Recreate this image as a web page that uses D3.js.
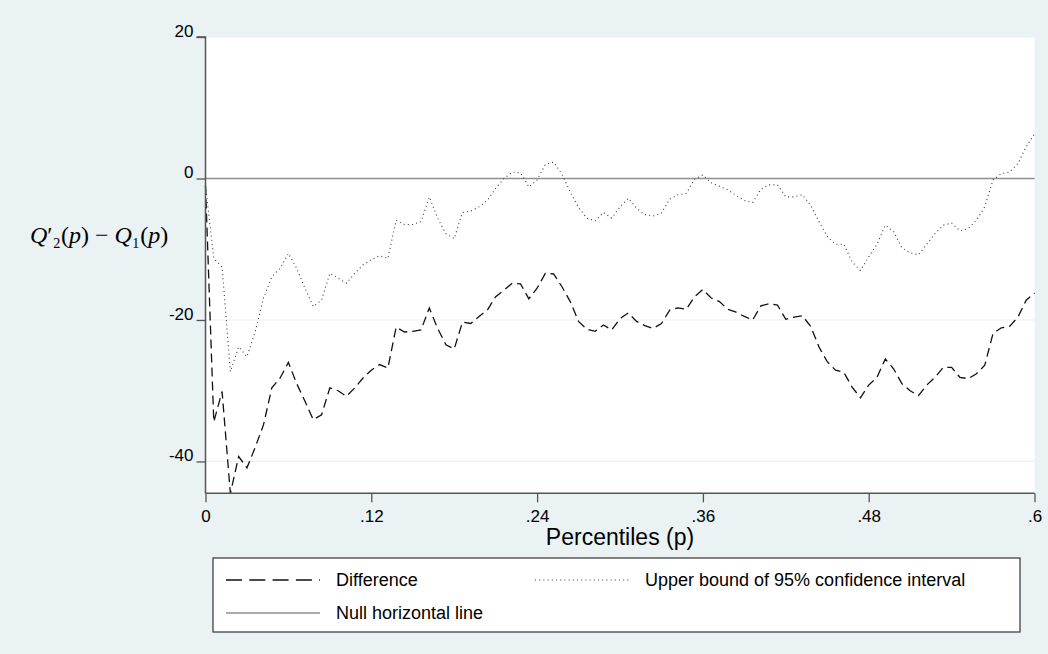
<!DOCTYPE html>
<html>
<head>
<meta charset="utf-8">
<script src="https://cdn.jsdelivr.net/npm/d3@7"></script>
<style>
  html, body { margin: 0; padding: 0; background: #ffffff; }
  svg { display: block; }
  text { font-family: "Liberation Sans", Arial, sans-serif; fill: #000; }
</style>
</head>
<body>
<svg id="chart" width="1048" height="654"></svg>
<script>
// Percentile grid: 0 to .6 in steps of .006
const pStep = 0.006;
const percentiles = d3.range(0, 101).map(i => +(i * pStep).toFixed(3));

// Q2'(p) - Q1(p)
const difference = [
  -1.0, -34.4, -30.1, -44.5, -39.3, -40.9, -38.0, -34.8, -29.6, -28.2,
  -26.0, -29.0, -31.5, -34.1, -33.4, -29.6, -30.0, -30.8, -29.6, -28.2,
  -27.1, -26.3, -26.8, -21.0, -21.7, -21.6, -21.4, -18.3, -21.2, -23.5,
  -24.1, -20.3, -20.5, -19.5, -18.6, -16.7, -15.8, -14.8, -14.9, -17.0,
  -15.5, -13.4, -13.5, -15.3, -17.4, -20.2, -21.3, -21.6, -20.7, -21.4,
  -19.8, -19.0, -20.2, -20.8, -21.2, -20.5, -18.6, -18.3, -18.5, -16.7,
  -15.7, -16.9, -17.4, -18.5, -18.9, -19.5, -20.0, -18.0, -17.7, -17.9,
  -19.9, -19.6, -19.4, -20.9, -23.8, -25.9, -27.1, -27.4, -29.5, -31.0,
  -29.2, -28.1, -25.5, -26.9, -29.0, -30.0, -30.7, -29.2, -28.1, -26.7,
  -26.7, -28.1, -28.3, -27.6, -26.4, -21.9, -21.1, -20.9, -19.6, -17.2,
  -16.2
];

// Upper bound of the 95% confidence interval
const upperBound = [
  -1.0, -11.3, -12.5, -27.3, -23.8, -25.2, -21.6, -16.9, -13.9, -12.7,
  -10.6, -12.7, -15.5, -18.1, -17.2, -13.4, -14.1, -14.8, -13.4, -12.2,
  -11.5, -10.9, -11.3, -5.9, -6.5, -6.5, -6.1, -2.6, -5.6, -7.8,
  -8.5, -4.8, -4.6, -4.0, -3.1, -1.4, 0.0, 0.9, 0.8, -1.2,
  -0.2, 2.0, 2.3, 0.6, -1.9, -4.1, -5.6, -6.0, -4.8, -5.6,
  -4.0, -2.8, -4.2, -5.1, -5.3, -4.9, -2.9, -2.3, -2.1, -0.1,
  0.5, -0.6, -1.1, -1.6, -2.4, -3.1, -3.4, -1.5, -0.9, -0.9,
  -2.6, -2.6, -2.3, -3.8, -6.1, -8.2, -9.3, -9.3, -11.8, -13.0,
  -11.1, -9.3, -6.6, -7.5, -9.8, -10.5, -10.8, -9.3, -7.8, -6.6,
  -6.3, -7.4, -7.1, -5.9, -4.0, -0.2, 0.7, 0.9, 2.1, 4.5,
  6.3
];

// Null reference level
const nullLevel = 0;

const xTicks = [0, 0.12, 0.24, 0.36, 0.48, 0.6];
const xTickLabels = ["0", ".12", ".24", ".36", ".48", ".6"];
const yTicks = [20, 0, -20, -40];
const yTickLabels = ["20", "0", "-20", "-40"];

const legendItems = ["Difference", "Upper bound of 95% confidence interval", "Null horizontal line"];

const BG = "#eaf2f3";
const svg = d3.select("#chart");
const W = 1048, H = 654;

// graph region
svg.append("rect").attr("x", 0).attr("y", 0).attr("width", W).attr("height", H).attr("fill", BG);

const plot = { left: 205.5, right: 1034.5, top: 37, bottom: 493.3 };
const yMin = d3.min(difference);

const x = d3.scaleLinear().domain([0, 0.6]).range([plot.left, plot.right]);
const y = d3.scaleLinear().domain([yMin, 20]).range([plot.bottom, plot.top]);

// plot region
svg.append("rect")
  .attr("x", plot.left).attr("y", plot.top)
  .attr("width", plot.right - plot.left).attr("height", plot.bottom - plot.top)
  .attr("fill", "#ffffff");

// horizontal grid
svg.append("g").selectAll("line").data(yTicks).join("line")
  .attr("x1", plot.left).attr("x2", plot.right)
  .attr("y1", d => y(d)).attr("y2", d => y(d))
  .attr("stroke", BG).attr("stroke-width", 1.2);

// null horizontal line
svg.append("line")
  .attr("x1", x(0)).attr("x2", x(0.6))
  .attr("y1", y(nullLevel)).attr("y2", y(nullLevel))
  .attr("stroke", "#8f8f8f").attr("stroke-width", 1.4);

const line = (vals) => d3.line()
  .x((d, i) => x(percentiles[i]))
  .y(d => y(d))(vals);

// upper bound (dotted)
svg.append("path")
  .attr("d", line(upperBound))
  .attr("fill", "none")
  .attr("stroke", "#3a3a3a")
  .attr("stroke-width", 1.1)
  .attr("stroke-dasharray", "1,3.2");

// difference (dashed)
svg.append("path")
  .attr("d", line(difference))
  .attr("fill", "none")
  .attr("stroke", "#111")
  .attr("stroke-width", 1.3)
  .attr("stroke-dasharray", "9,5");

// y axis
const yAxis = d3.axisLeft(y).tickValues(yTicks)
  .tickFormat((d, i) => yTickLabels[i]).tickSize(9).tickPadding(3);
const gy = svg.append("g").attr("transform", `translate(${plot.left},0)`).call(yAxis);
gy.select(".domain").attr("stroke", "#555").attr("stroke-width", 1.5)
  .attr("d", `M-9,${plot.top}H0V${plot.bottom}`);
gy.selectAll(".tick line").attr("stroke", "#555").attr("stroke-width", 1.3);
gy.selectAll(".tick text")
  .attr("font-family", "Liberation Sans, Arial, sans-serif")
  .attr("font-size", 17).attr("fill", "#000")
  .attr("dy", "-0.05em");

// x axis
const xAxis = d3.axisBottom(x).tickValues(xTicks)
  .tickFormat((d, i) => xTickLabels[i]).tickSize(9).tickPadding(8);
const gx = svg.append("g").attr("transform", `translate(0,${plot.bottom})`).call(xAxis);
gx.select(".domain").attr("stroke", "#555").attr("stroke-width", 1.5)
  .attr("d", `M${plot.left},0H${plot.right}`);
gx.selectAll(".tick line").attr("stroke", "#555").attr("stroke-width", 1.3);
gx.selectAll(".tick text")
  .attr("font-family", "Liberation Sans, Arial, sans-serif")
  .attr("font-size", 17).attr("fill", "#000");

// x axis title
svg.append("text")
  .attr("x", (plot.left + plot.right) / 2).attr("y", 545)
  .attr("text-anchor", "middle")
  .attr("font-size", 23)
  .text("Percentiles (p)");

// y axis title: Q'₂(p) − Q₁(p)
const yt = svg.append("text")
  .attr("x", 30).attr("y", 243)
  .style("font-family", "'Liberation Serif', 'DejaVu Serif', serif")
  .attr("font-size", 24);
yt.append("tspan").attr("font-style", "italic").text("Q");
yt.append("tspan").text("′₂(");
yt.append("tspan").attr("font-style", "italic").text("p");
yt.append("tspan").text(") − ");
yt.append("tspan").attr("font-style", "italic").text("Q");
yt.append("tspan").text("₁(");
yt.append("tspan").attr("font-style", "italic").text("p");
yt.append("tspan").text(")");

// legend
const lg = { x: 213, y: 558, w: 807, h: 74 };
svg.append("rect")
  .attr("x", lg.x).attr("y", lg.y).attr("width", lg.w).attr("height", lg.h)
  .attr("fill", "#fff").attr("stroke", "#333").attr("stroke-width", 1.2);

const legendRows = [
  { label: legendItems[0], x0: 226, x1: 320, y: 580, tx: 336, stroke: "#111", sw: 1.3, dash: "16,7.3" },
  { label: legendItems[1], x0: 535, x1: 629, y: 580, tx: 645, stroke: "#3a3a3a", sw: 1.1, dash: "1,3.2" },
  { label: legendItems[2], x0: 226, x1: 320, y: 613, tx: 336, stroke: "#8f8f8f", sw: 1.4, dash: null }
];
const lgG = svg.append("g");
legendRows.forEach(r => {
  lgG.append("line")
    .attr("x1", r.x0).attr("x2", r.x1).attr("y1", r.y).attr("y2", r.y)
    .attr("stroke", r.stroke).attr("stroke-width", r.sw)
    .attr("stroke-dasharray", r.dash);
  lgG.append("text")
    .attr("x", r.tx).attr("y", r.y).attr("dy", "0.35em")
    .attr("font-size", 18)
    .text(r.label);
});
</script>
</body>
</html>
